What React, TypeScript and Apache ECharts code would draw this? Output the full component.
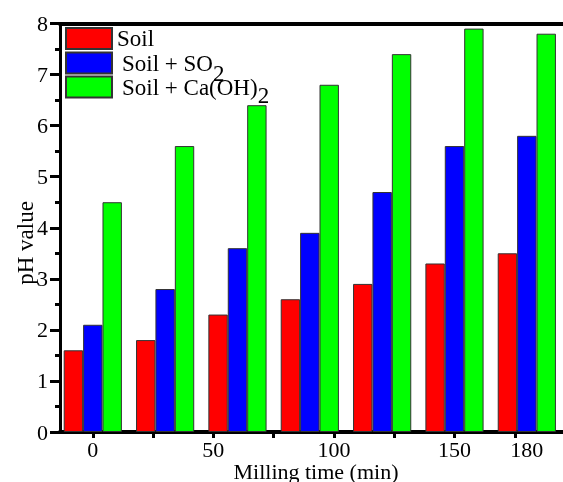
import React, { useEffect, useRef } from "react";
import * as echarts from "echarts";

const times = [0, 30, 60, 90, 120, 150, 180];
const soil = [1.6, 1.8, 2.3, 2.6, 2.9, 3.3, 3.5];
const soilSO2 = [2.1, 2.8, 3.6, 3.9, 4.7, 5.6, 5.8];
const soilCaOH2 = [4.5, 5.6, 6.4, 6.8, 7.4, 7.9, 7.8];
const xTickValues = [0, 25, 50, 75, 100, 125, 150, 175];
const xLabelValues = [0, 50, 100, 150, 180];
const seriesNames = ["Soil", "Soil + SO2", "Soil + Ca(OH)2"];
const legendLabels: Record<string, string> = {
  "Soil": "{a|Soil}",
  "Soil + SO2": "{p|Soil + SO}{s|2}",
  "Soil + Ca(OH)2": "{p|Soil + Ca(OH)}{t|2}",
};

const FONT = "Liberation Serif";

export default function App() {
  const ref = useRef<HTMLDivElement>(null);
  useEffect(() => {
    if (!ref.current) return;
    const chart = echarts.init(ref.current, null, { renderer: "svg" });
    const toPairs = (vals: number[]) => times.map((t, i) => [t, vals[i]]);
    const colors = ["#ff0000", "#0000ff", "#00ff00"];
    const values = [soil, soilSO2, soilCaOH2];
    const rich = {
      a: { fontFamily: FONT, fontSize: 23, color: "#000", lineHeight: 20 },
      p: { fontFamily: FONT, fontSize: 23, color: "#000", lineHeight: 20, padding: [0, 0, 0, 5] },
      s: { fontFamily: FONT, fontSize: 23, color: "#000", lineHeight: 20, padding: [20, 0, 0, 0] },
      t: { fontFamily: FONT, fontSize: 23, color: "#000", lineHeight: 20, padding: [16, 0, 0, 0] },
    };
    const legendTops = [27, 41.5, 67.5];
    chart.setOption({
      animation: false,
      grid: { left: 60, top: 23.5, width: 505, height: 408.5, containLabel: false },
      legend: seriesNames.map((n, i) => ({
        data: [n],
        orient: "vertical",
        left: 65,
        top: legendTops[i],
        padding: 0,
        icon: "rect",
        itemWidth: 46,
        itemHeight: 21,
        selectedMode: false,
        formatter: (name: string) => legendLabels[name],
        textStyle: { fontFamily: FONT, fontSize: 23, color: "#000", rich },
      })),
      xAxis: [
        {
          type: "value",
          position: "bottom",
          min: -13.6,
          max: 195,
          axisLine: { onZero: false, lineStyle: { color: "#000", width: 4 } },
          axisTick: { show: true, customValues: xTickValues, length: 6, lineStyle: { color: "#000", width: 3 } },
          axisLabel: {
            customValues: xLabelValues,
            fontFamily: FONT,
            fontSize: 22,
            lineHeight: 17,
            color: "#000",
            margin: 9,
          },
          splitLine: { show: false },
        },
        {
          type: "value",
          position: "top",
          min: -13.6,
          max: 195,
          axisLine: { show: true, onZero: false, lineStyle: { color: "#000", width: 4 } },
          axisTick: { show: false },
          axisLabel: { show: false },
          splitLine: { show: false },
        },
      ],
      yAxis: {
        type: "value",
        min: 0,
        max: 8,
        interval: 1,
        axisLine: { show: true, onZero: false, lineStyle: { color: "#000", width: 3 } },
        axisTick: { show: true, length: 10, lineStyle: { color: "#000", width: 3 } },
        minorTick: { show: true, splitNumber: 2, length: 5, lineStyle: { color: "#000", width: 3 } },
        axisLabel: { fontFamily: FONT, fontSize: 22, color: "#000", margin: 12 },
        splitLine: { show: false },
      },
      graphic: [
        {
          type: "text",
          x: 25,
          y: 243,
          rotation: Math.PI / 2,
          style: {
            text: "pH value",
            fontFamily: FONT,
            fontSize: 23,
            fill: "#000",
            align: "center",
            verticalAlign: "middle",
          },
        },
        {
          type: "text",
          x: 316,
          y: 471,
          style: {
            text: "Milling time (min)",
            fontFamily: FONT,
            fontSize: 22,
            lineHeight: 18,
            fill: "#000",
            align: "center",
            verticalAlign: "middle",
          },
        },
      ],
      series: seriesNames.map((n, i) => ({
        name: n,
        type: "bar",
        xAxisIndex: 0,
        data: toPairs(values[i]),
        barWidth: 19.4,
        barGap: "0%",
        itemStyle: { color: colors[i], borderColor: "#333", borderWidth: 1 },
      })),
    });
    return () => chart.dispose();
  }, []);
  return (
    <div
      ref={ref}
      style={{ position: "fixed", left: 0, top: 0, width: 563, height: 482 }}
    />
  );
}
